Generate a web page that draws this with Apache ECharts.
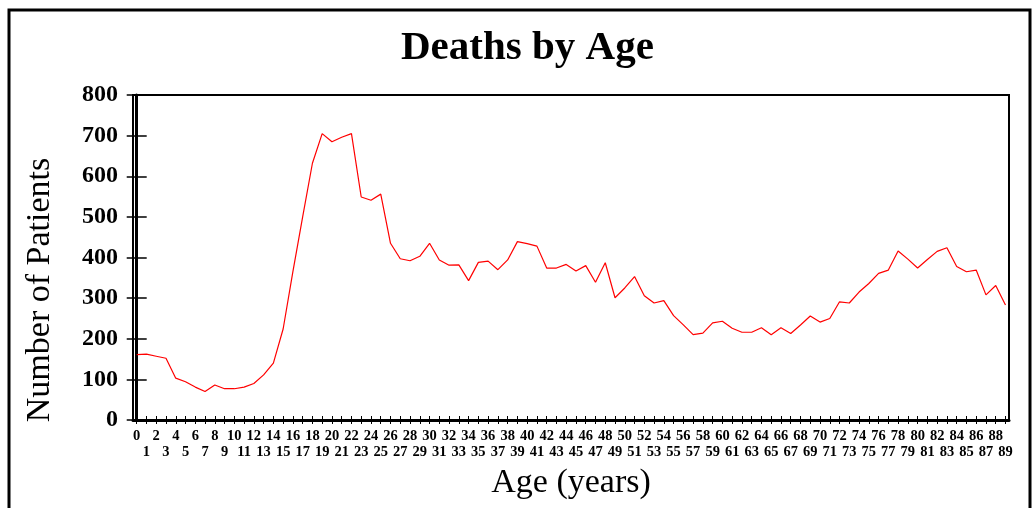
<!DOCTYPE html>
<html>
<head>
<meta charset="utf-8">
<script src="https://cdn.jsdelivr.net/npm/echarts@6/dist/echarts.min.js"></script>
<style>
  html, body { margin: 0; padding: 0; background: #fff; }
  #chart { width: 1033px; height: 508px; }
</style>
</head>
<body>
<div id="chart"></div>
<script>
const titleText = 'Deaths by Age';
const yName = 'Number of Patients';
const ages = [0, 1, 2, 3, 4, 5, 6, 7, 8, 9, 10, 11, 12, 13, 14, 15, 16, 17, 18, 19,
  20, 21, 22, 23, 24, 25, 26, 27, 28, 29, 30, 31, 32, 33, 34, 35, 36, 37, 38, 39,
  40, 41, 42, 43, 44, 45, 46, 47, 48, 49, 50, 51, 52, 53, 54, 55, 56, 57, 58, 59,
  60, 61, 62, 63, 64, 65, 66, 67, 68, 69, 70, 71, 72, 73, 74, 75, 76, 77, 78, 79,
  80, 81, 82, 83, 84, 85, 86, 87, 88, 89];
const deaths = [161, 162, 157, 152, 103, 94, 81, 70, 86, 77, 77, 81, 90, 111, 140, 224, 365, 500, 632, 705,
  685, 696, 705, 549, 541, 556, 435, 397, 392, 403, 435, 394, 381, 382, 343, 388, 391, 370, 394, 439,
  434, 428, 374, 374, 383, 367, 380, 339, 387, 301, 325, 353, 306, 288, 294, 257, 234, 210, 214, 239,
  243, 226, 216, 216, 227, 210, 227, 213, 234, 256, 241, 250, 291, 288, 315, 336, 361, 369, 416, 396,
  374, 395, 415, 424, 378, 365, 369, 308, 331, 283];
const yTicks = [0, 100, 200, 300, 400, 500, 600, 700, 800];

// labels alternate between two rows
const evenAges = ages.filter(a => a % 2 === 0);
const oddAges = ages.filter(a => a % 2 === 1);

const serif = 'Liberation Serif';
const chart = echarts.init(document.getElementById('chart'), null, { renderer: 'canvas' });

const labelFont = { fontFamily: serif, fontWeight: 'bold', fontSize: 14.5, color: '#000' };

const option = {
  animation: false,
  backgroundColor: '#fff',
  title: {
    text: titleText,
    left: 396,
    top: 23,
    textStyle: { fontFamily: serif, fontWeight: 'bold', fontSize: 41, color: '#000' }
  },
  graphic: [
    {
      type: 'rect',
      shape: { x: 9, y: 10, width: 1021, height: 530 },
      style: { fill: null, stroke: '#000', lineWidth: 3 },
      silent: true
    },
    {
      // y-axis title sits below the plot centre in the original
      type: 'text',
      x: 40,
      y: 290,
      rotation: Math.PI / 2,
      style: {
        text: yName,
        fontFamily: serif, fontSize: 34, fill: '#000',
        textAlign: 'center', textVerticalAlign: 'middle'
      },
      silent: true
    }
  ],
  grid: {
    left: 133, right: 24, top: 95, bottom: 88,
    show: true, borderColor: '#000', borderWidth: 2, backgroundColor: 'transparent'
  },
  xAxis: [
    {
      type: 'value',
      min: -0.38, max: 89.36,
      name: 'Age (years)',
      nameLocation: 'middle',
      nameGap: 46,
      nameTextStyle: { fontFamily: serif, fontSize: 34, color: '#000' },
      axisLine: { show: true, lineStyle: { color: '#000', width: 3 } },
      axisTick: { show: true, length: 4, customValues: ages, lineStyle: { color: '#000', width: 1 } },
      axisLabel: Object.assign({
        customValues: evenAges,
        showMinLabel: true,
        showMaxLabel: true,
        margin: 9
      }, labelFont),
      splitLine: { show: false }
    },
    {
      type: 'value',
      min: -0.38, max: 89.36,
      position: 'bottom',
      axisLine: { show: false },
      axisTick: { show: true, inside: true, length: 4, customValues: ages, lineStyle: { color: '#000', width: 1 } },
      axisLabel: Object.assign({
        customValues: oddAges,
        showMinLabel: true,
        showMaxLabel: true,
        margin: 25
      }, labelFont),
      splitLine: { show: false }
    }
  ],
  yAxis: [
    {
      type: 'value',
      min: 0, max: 800, interval: 100,
      axisLine: { show: true, lineStyle: { color: '#000', width: 3 } },
      axisTick: { show: true, length: 10, customValues: yTicks, lineStyle: { color: '#000', width: 1.5 } },
      axisLabel: {
        margin: 15, showMinLabel: true, showMaxLabel: true,
        fontFamily: serif, fontWeight: 'bold', fontSize: 24, color: '#000'
      },
      splitLine: { show: false }
    },
    {
      type: 'value',
      min: 0, max: 800, interval: 100,
      position: 'left',
      axisLine: { show: false },
      axisTick: { show: true, inside: true, length: 10, customValues: yTicks, lineStyle: { color: '#000', width: 1.5 } },
      axisLabel: { show: false },
      splitLine: { show: false }
    }
  ],
  series: [
    {
      type: 'line',
      name: 'Deaths',
      xAxisIndex: 0,
      yAxisIndex: 0,
      data: ages.map((a, i) => [a, deaths[i]]),
      showSymbol: false,
      lineStyle: { color: '#ff0000', width: 1.2 },
      itemStyle: { color: '#ff0000' }
    }
  ]
};

chart.setOption(option);
window.onresize = function () {
  chart.resize();
};
</script>
</body>
</html>
